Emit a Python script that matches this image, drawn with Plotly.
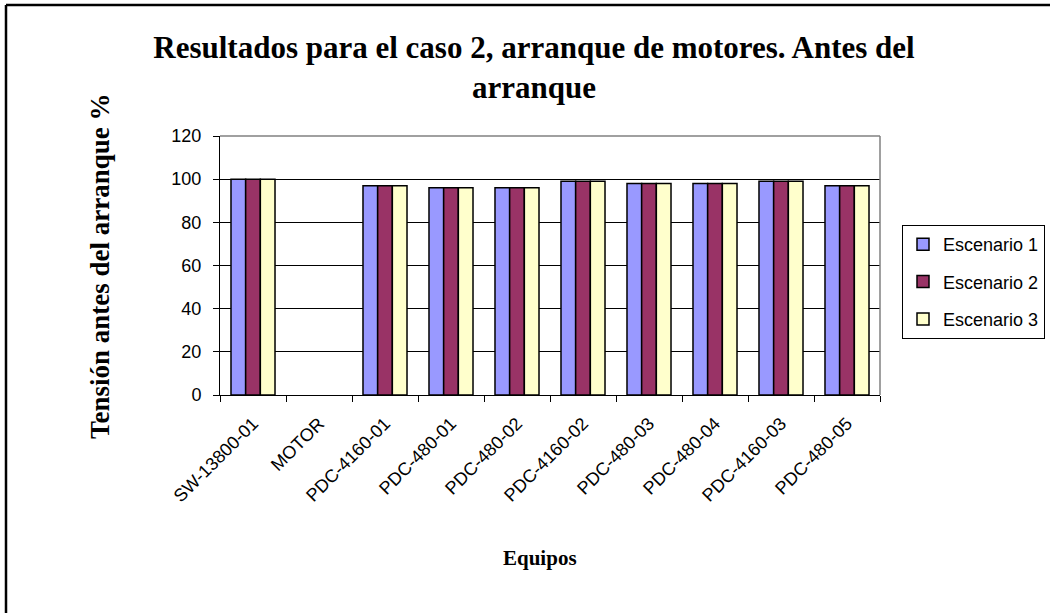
import plotly.graph_objects as go

categories = ["SW-13800-01", "MOTOR", "PDC-4160-01", "PDC-480-01", "PDC-480-02",
              "PDC-4160-02", "PDC-480-03", "PDC-480-04", "PDC-4160-03", "PDC-480-05"]
escenario_1 = [100, None, 97, 96, 96, 99, 98, 98, 99, 97]
escenario_2 = [100, None, 97, 96, 96, 99, 98, 98, 99, 97]
escenario_3 = [100, None, 97, 96, 96, 99, 98, 98, 99, 97]
series_names = ["Escenario 1", "Escenario 2", "Escenario 3"]
colors = ["#9999FF", "#993366", "#FFFFCC"]
y_ticks = [0, 20, 40, 60, 80, 100, 120]

W, H = 1050, 613
L, R, T, B = 220, 880, 136, 395

fig = go.Figure()
for i, (name, vals) in enumerate(zip(series_names, [escenario_1, escenario_2, escenario_3])):
    fig.add_trace(go.Bar(
        x=categories, y=vals, name=name,
        marker=dict(color=colors[i], line=dict(color="black", width=1.5)),
        legendgroup=name,
    ))

def px_x(p):
    return (p - L) / (R - L)

def px_y(p):
    return (B - p) / (B - T)

fig.update_layout(
    width=W, height=H,
    margin=dict(l=L, r=W - R, t=T, b=H - B, autoexpand=False),
    paper_bgcolor="white", plot_bgcolor="white",
    barmode="group", bargap=0.333, bargroupgap=0,
    font=dict(family="Liberation Sans, Arial", size=16, color="black"),
    title=dict(
        text="Resultados para el caso 2, arranque de motores. Antes del<br>arranque",
        font=dict(family="Liberation Serif, Times New Roman", size=31, color="black", weight="bold"),
        x=534 / W, xanchor="center", y=1 - 58 / H, yanchor="top",
    ),
    showlegend=True,
    legend=dict(
        x=px_x(902), y=px_y(225), xanchor="left", yanchor="top",
        bordercolor="black", borderwidth=1, bgcolor="white",
        font=dict(family="Liberation Sans, Arial", size=18),
        tracegroupgap=11, traceorder="grouped", itemwidth=30,
    ),
    xaxis=dict(
        type="category", tickangle=-45, tickson="boundaries",
        ticks="outside", ticklen=6, tickcolor="black",
        showline=True, linecolor="black", linewidth=1,
        showgrid=False, tickfont=dict(family="Liberation Sans, Arial", size=18),
        ticklabelstandoff=10,
    ),
    yaxis=dict(
        range=[0, 120], tickvals=y_ticks, ticks="outside", ticklen=6, tickcolor="black",
        showline=True, linecolor="black", linewidth=1,
        showgrid=True, gridcolor="black", gridwidth=1,
        tickfont=dict(family="Liberation Sans, Arial", size=18),
        ticklabelstandoff=8, zeroline=False,
    ),
    shapes=[
        dict(type="line", xref="paper", yref="paper", x0=0, x1=1, y0=1, y1=1,
             line=dict(color="#808080", width=1.5)),
        dict(type="line", xref="paper", yref="paper", x0=1, x1=1, y0=0, y1=1,
             line=dict(color="#808080", width=1.5)),
        dict(type="line", xref="paper", yref="paper", x0=px_x(6), x1=px_x(6),
             y0=px_y(5), y1=px_y(640), line=dict(color="black", width=2.5)),
        dict(type="line", xref="paper", yref="paper", x0=px_x(6), x1=px_x(1080),
             y0=px_y(5), y1=px_y(5), line=dict(color="black", width=2.5)),
    ],
    annotations=[
        dict(text="Tensión antes del arranque %", xref="paper", yref="paper",
             x=px_x(100), y=px_y(266), xanchor="center", yanchor="middle",
             textangle=-90, showarrow=False,
             font=dict(family="Liberation Serif, Times New Roman", size=27, color="black", weight="bold")),
        dict(text="Equipos", xref="paper", yref="paper",
             x=px_x(540), y=px_y(558), xanchor="center", yanchor="middle",
             showarrow=False,
             font=dict(family="Liberation Serif, Times New Roman", size=21, color="black", weight="bold")),
    ],
)

fig.write_html("out.html", config={"displayModeBar": False},
               post_script="document.body.style.margin='0px';")
